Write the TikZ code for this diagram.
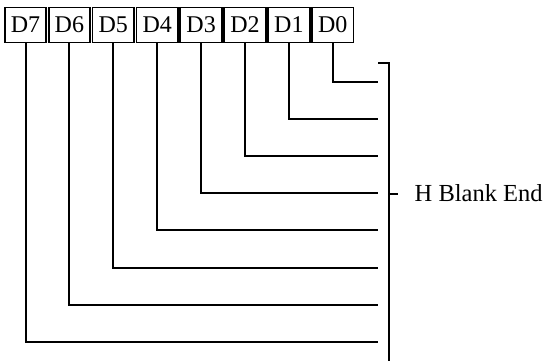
\documentclass[tikz,border=0pt]{standalone}
\usepackage{fontspec}
\setmainfont{Liberation Serif}
\begin{document}
\begin{tikzpicture}[x=1pt,y=-1pt,
  bitbox/.style={draw,line width=1.8pt,minimum width=41.5pt,minimum height=35pt,inner sep=0pt,font=\fontsize{24}{24}\selectfont},
  wire/.style={line width=2pt},
  lbl/.style={font=\fontsize{24.5}{24.5}\selectfont,anchor=west,inner sep=0pt}]
\useasboundingbox (0,0) rectangle (554,360);
\foreach \i/\n in {0/7,1/6,2/5,3/4,4/3,5/2,6/1,7/0}{
  \node[bitbox] (d\n) at ({25.5+43.9*\i},25) {D\n};
}
\foreach \n/\y in {0/81.7,1/118.5,2/156,3/193,4/230,5/267.7,6/305.3,7/342.3}{
  \coordinate (e\n) at (377.5,\y);
  \draw[wire] (d\n.south) |- (e\n);
}
\coordinate (btl) at (378,62.7);
\coordinate (btr) at (388.5,62.7);
\coordinate (bb) at (388.5,362);
\draw[wire] (btl) -- (btr) -- (bb);
\coordinate (tk0) at (388.5,193.5);
\coordinate (tk1) at (398,193.5);
\draw[wire] (tk0) -- (tk1);
\node[lbl] (hb) at (414.5,193) {H Blank End};
\end{tikzpicture}
\end{document}
